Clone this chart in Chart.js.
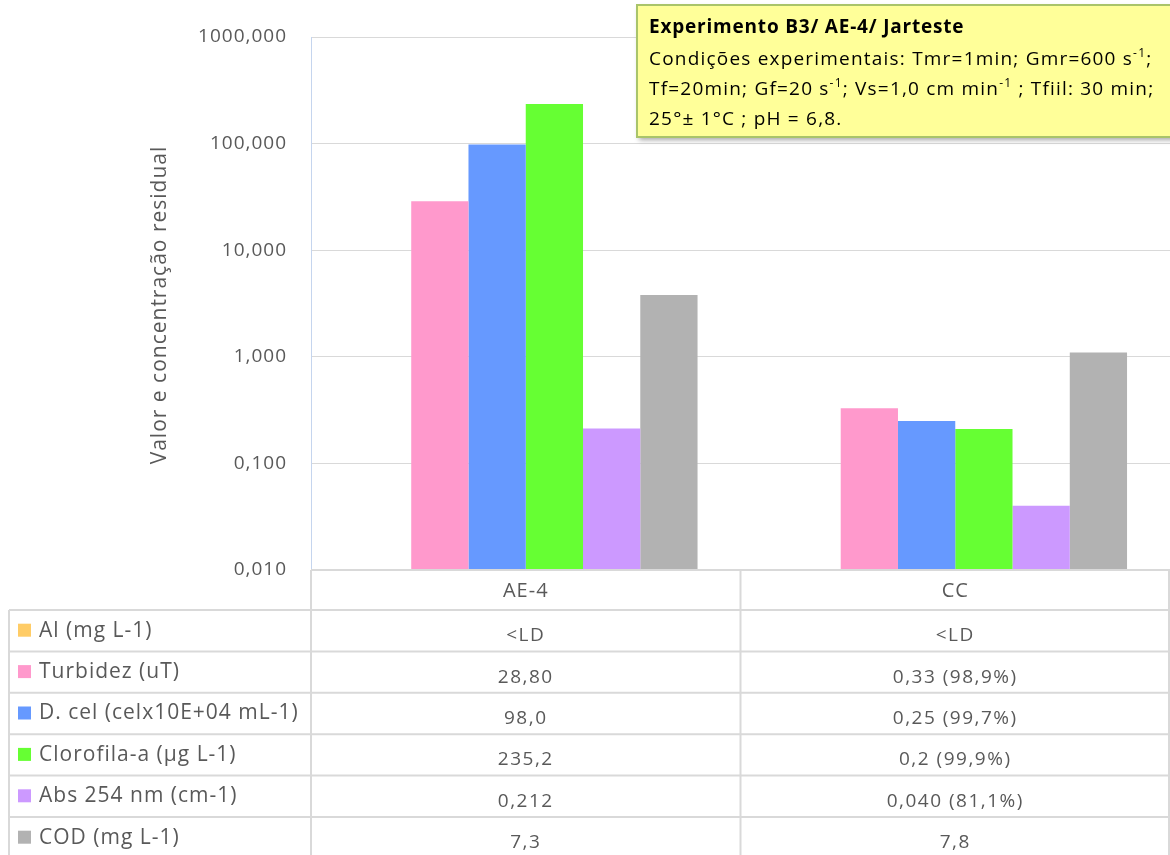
<!DOCTYPE html>
<html>
<head>
<meta charset="utf-8">
<script src="https://cdn.jsdelivr.net/npm/chart.js@4.4.1/dist/chart.umd.min.js"></script>
<style>
  html, body { margin: 0; padding: 0; background: #fff; }
  #wrap { width: 1170px; height: 855px; position: relative; }
</style>
</head>
<body>
<div id="wrap"><canvas id="chart" width="1170" height="855"></canvas></div>
<script>
// categories and series
const categories = ['AE-4', 'CC'];
const seriesNames = ['Al (mg L-1)', 'Turbidez (uT)', 'D. cel (celx10E+04 mL-1)', 'Clorofila-a (µg L-1)', 'Abs 254 nm (cm-1)', 'COD (mg L-1)'];
const seriesColors = ['#FFCC66', '#FF99CC', '#6699FF', '#66FF33', '#CC99FF', '#B2B2B2'];

// bar values (Al below detection limit -> no bar)
const alValues = [null, null];
const turbidezValues = [28.8, 0.33];
const dcelValues = [98.0, 0.25];
const clorofilaValues = [235.2, 0.21];
const absValues = [0.212, 0.040];
const codValues = [3.8, 1.1];

// text shown in the data table
const tableText = [
    ['<LD', '<LD'],
    ['28,80', '0,33 (98,9%)'],
    ['98,0', '0,25 (99,7%)'],
    ['235,2', '0,2 (99,9%)'],
    ['0,212', '0,040 (81,1%)'],
    ['7,3', '7,8']
];

const yTicks = [0.01, 0.1, 1, 10, 100, 1000];

const FONT = '"Open Sans", "Noto Sans", sans-serif';
const TEXT = '#595959';
const LINE = '#d9d9d9';

const allValues = [alValues, turbidezValues, dcelValues, clorofilaValues, absValues, codValues];

// wider letter spacing like the original
const spacingPlugin = {
    id: 'spacing',
    beforeInit(chart) { chart.ctx.letterSpacing = '1px'; },
    beforeDraw(chart) { chart.ctx.letterSpacing = '1px'; }
};

// table, axis title and annotation drawn after the bars
const tablePlugin = {
    id: 'dataTable',
    afterDraw(chart) {
        const ctx = chart.ctx;
        const area = chart.chartArea;
        const xs = chart.scales.x;
        const left = 9;
        const rowTop = area.bottom + 40;
        const rowH = 41.4;
        const mid = (xs.getPixelForValue(0) + xs.getPixelForValue(1)) / 2;

        ctx.save();
        ctx.strokeStyle = LINE;
        ctx.lineWidth = 2;
        ctx.beginPath();
        ctx.moveTo(area.left, area.bottom); ctx.lineTo(area.right, area.bottom);
        for (let i = 0; i <= seriesNames.length; i++) {
            const y = rowTop + i * rowH;
            ctx.moveTo(left, y); ctx.lineTo(area.right, y);
        }
        ctx.moveTo(left, rowTop); ctx.lineTo(left, 855);
        ctx.moveTo(area.left, area.bottom); ctx.lineTo(area.left, 855);
        ctx.moveTo(mid, area.bottom); ctx.lineTo(mid, 855);
        ctx.moveTo(area.right - 1, area.bottom); ctx.lineTo(area.right - 1, 855);
        ctx.stroke();

        ctx.fillStyle = TEXT;
        ctx.textBaseline = 'middle';
        ctx.textAlign = 'center';
        ctx.letterSpacing = '1px';
        ctx.font = '20px ' + FONT;
        categories.forEach((c, i) => {
            ctx.fillText(c, xs.getPixelForValue(i), area.bottom + 21);
        });

        seriesNames.forEach((name, r) => {
            const cy = rowTop + r * rowH + rowH / 2;
            ctx.fillStyle = seriesColors[r];
            ctx.fillRect(18, cy - 7, 13, 13);
            ctx.fillStyle = TEXT;
            ctx.textAlign = 'left';
            ctx.letterSpacing = '1px';
            ctx.font = '21px ' + FONT;
            ctx.fillText(name, 39, cy);
            ctx.textAlign = 'center';
            ctx.letterSpacing = '1.5px';
            ctx.font = '19px ' + FONT;
            tableText[r].forEach((t, i) => {
                ctx.fillText(t, xs.getPixelForValue(i), cy + 5);
            });
        });

        // y axis title
        ctx.save();
        ctx.translate(160, 305);
        ctx.rotate(-Math.PI / 2);
        ctx.letterSpacing = '1px';
        ctx.font = '21px ' + FONT;
        ctx.fillText('Valor e concentração residual', 0, 0);
        ctx.restore();

        // annotation box
        const bx = 637, by = 5, bw = 545, bh = 132;
        ctx.shadowColor = 'rgba(0,0,0,0.35)';
        ctx.shadowBlur = 5;
        ctx.shadowOffsetX = 2;
        ctx.shadowOffsetY = 3;
        ctx.fillStyle = '#FFFF99';
        ctx.fillRect(bx, by, bw, bh);
        ctx.shadowColor = 'transparent';
        ctx.strokeStyle = '#A9C46A';
        ctx.lineWidth = 2;
        ctx.strokeRect(bx, by, bw, bh);

        ctx.fillStyle = '#000';
        ctx.textAlign = 'left';
        ctx.textBaseline = 'alphabetic';
        ctx.letterSpacing = '0.8px';
        ctx.font = 'bold 19px ' + FONT;
        ctx.fillText('Experimento B3/ AE-4/ Jarteste', 649, 33);

        ctx.letterSpacing = '1.2px';
        const lines = [
            [['Condições experimentais: Tmr=1min; Gmr=600 s'], ['-1', true], [';']],
            [['Tf=20min; Gf=20 s'], ['-1', true], ['; Vs=1,0 cm min'], ['-1', true], [' ; Tfiil: 30 min;']],
            [['25°± 1°C ; pH = 6,8.']]
        ];
        lines.forEach((parts, li) => {
            let x = 649;
            const y = 65 + li * 30;
            parts.forEach(([t, sup]) => {
                ctx.font = (sup ? '12px ' : '19px ') + FONT;
                ctx.fillText(t, x, sup ? y - 8 : y);
                x += ctx.measureText(t).width;
            });
        });
        ctx.restore();
    }
};

new Chart(document.getElementById('chart'), {
    type: 'bar',
    data: {
        labels: categories,
        datasets: seriesNames.map((name, i) => ({
            label: name,
            data: allValues[i],
            backgroundColor: seriesColors[i],
            borderWidth: 0
        }))
    },
    options: {
        responsive: false,
        animation: false,
        layout: {
            padding: { top: 37, bottom: 285, left: 0, right: 0 }
        },
        datasets: {
            bar: { categoryPercentage: 0.8, barPercentage: 1.0 }
        },
        scales: {
            x: {
                display: false
            },
            y: {
                type: 'logarithmic',
                min: 0.01,
                max: 1000,
                afterBuildTicks: scale => {
                    scale.ticks = yTicks.map(v => ({ value: v }));
                },
                afterFit: scale => {
                    scale.width = 311;
                },
                border: { display: true, color: '#C5D5EE', width: 1 },
                grid: { color: LINE, lineWidth: 1, drawTicks: false },
                ticks: {
                    color: TEXT,
                    padding: 24,
                    font: { family: FONT, size: 19 },
                    callback: v => v.toFixed(3).replace('.', ',')
                },
                title: { display: false }
            }
        },
        plugins: {
            legend: { display: false },
            tooltip: { enabled: false }
        }
    },
    plugins: [spacingPlugin, tablePlugin]
});
</script>
</body>
</html>
